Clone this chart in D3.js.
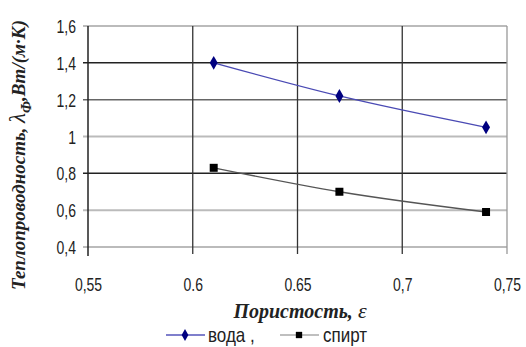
<!DOCTYPE html>
<html>
<head>
<meta charset="utf-8">
<script src="https://cdn.jsdelivr.net/npm/d3@7"></script>
<style>
  body { margin: 0; background: #fff; }
  .tick text { font-family: "Liberation Sans", Arial, sans-serif; font-size: 14px; fill: #222; }
</style>
</head>
<body>
<div id="chart"></div>
<script>
// данные
const poristost = [0.61, 0.67, 0.74];
const voda = [1.40, 1.22, 1.05];
const spirt = [0.83, 0.70, 0.59];
const xTicks = [0.55, 0.6, 0.65, 0.7, 0.75];
const xTickLabels = ['0,55', '0.6', '0.65', '0,7', '0,75'];
const yTicks = [0.4, 0.6, 0.8, 1.0, 1.2, 1.4, 1.6];
const yTickLabels = ['0,4', '0,6', '0,8', '1', '1,2', '1,4', '1,6'];

const width = 526, height = 347;
const margin = { top: 26, right: 19, bottom: 100, left: 88 };
const stretch = 1.3; // текст на картинке вытянут по вертикали

const svg = d3.select('#chart').append('svg')
  .attr('width', width)
  .attr('height', height);

const x = d3.scaleLinear().domain([0.55, 0.75]).range([margin.left, width - margin.right]);
const y = d3.scaleLinear().domain([0.4, 1.6]).range([height - margin.bottom, margin.top]);

// горизонтальная сетка
const hColor = v => (Math.abs(v - 1.4) < 1e-6 || Math.abs(v - 0.8) < 1e-6) ? '#222' : (Math.abs(v - 1.2) < 1e-6 ? '#666' : '#bbb');
svg.append('g')
  .selectAll('line')
  .data(yTicks)
  .join('line')
  .attr('x1', margin.left - 5)
  .attr('x2', width - margin.right)
  .attr('y1', d => y(d))
  .attr('y2', d => y(d))
  .attr('stroke', hColor)
  .attr('stroke-width', d => hColor(d) === '#bbb' ? 2 : 1.5);

// вертикальная сетка
svg.append('g')
  .selectAll('line')
  .data(xTicks.slice(1))
  .join('line')
  .attr('x1', d => x(d))
  .attr('x2', d => x(d))
  .attr('y1', margin.top)
  .attr('y2', height - margin.bottom + 7)
  .attr('stroke', d => d === 0.75 ? '#999' : '#333')
  .attr('stroke-width', 1.3);

// ось Y
svg.append('g')
  .attr('transform', `translate(${margin.left},0)`)
  .call(d3.axisLeft(y).tickValues(yTicks).tickFormat((d, i) => yTickLabels[i]).tickSize(0).tickPadding(12))
  .call(g => g.select('.domain').remove())
  .call(g => g.selectAll('.tick text')
    .attr('transform', `scale(1,${stretch})`)
    .attr('dy', '0.36em'));
svg.append('line')
  .attr('x1', margin.left).attr('x2', margin.left)
  .attr('y1', margin.top).attr('y2', height - margin.bottom + 9)
  .attr('stroke', '#222').attr('stroke-width', 1.5);

// ось X
svg.append('g')
  .attr('transform', `translate(0,${height - margin.bottom})`)
  .call(d3.axisBottom(x).tickValues(xTicks).tickFormat((d, i) => xTickLabels[i]).tickSize(0))
  .call(g => g.select('.domain').remove())
  .call(g => g.selectAll('.tick text')
    .attr('transform', `scale(1,${stretch})`)
    .attr('y', 37 / stretch)
    .attr('dy', '0.36em'));

// линии
const line = d3.line().x(d => x(d[0])).y(d => y(d[1])).curve(d3.curveMonotoneX);
const series = [
  { name: 'вода ,', vals: voda, color: '#4a4ab4', mark: '#000080', sym: d3.symbolDiamond },
  { name: 'спирт', vals: spirt, color: '#555', mark: '#000', sym: d3.symbolSquare }
];
series.forEach(s => {
  const pts = poristost.map((p, i) => [p, s.vals[i]]);
  svg.append('path')
    .datum(pts)
    .attr('d', line)
    .attr('fill', 'none')
    .attr('stroke', s.color)
    .attr('stroke-width', 1.3);
  svg.append('g')
    .selectAll('path')
    .data(pts)
    .join('path')
    .attr('transform', d => `translate(${x(d[0])},${y(d[1])})`)
    .attr('d', d3.symbol().type(s.sym).size(s.sym === d3.symbolDiamond ? 55 : 64))
    .attr('fill', s.mark);
});

// подписи осей
const ylab = svg.append('text')
  .attr('transform', 'translate(25,155) rotate(-90)')
  .attr('text-anchor', 'middle')
  .attr('font-family', '"Liberation Serif", "Times New Roman", serif')
  .attr('font-style', 'italic')
  .attr('font-weight', 'bold')
  .attr('font-size', 19)
  .attr('fill', '#222');
ylab.append('tspan').text('Теплопроводность, ');
ylab.append('tspan').attr('font-weight', 'normal').attr('font-size', 23).text('λ');
ylab.append('tspan').attr('dy', 6).attr('font-size', 14).text('Ф');
ylab.append('tspan').attr('dy', -6).text(',Вт/(м·К)');

const xlab = svg.append('text')
  .attr('x', 300).attr('y', 318)
  .attr('text-anchor', 'middle')
  .attr('font-family', '"Liberation Serif", "Times New Roman", serif')
  .attr('font-style', 'italic')
  .attr('font-weight', 'bold')
  .attr('font-size', 20)
  .attr('fill', '#222');
xlab.append('tspan').text('Пористость, ');
xlab.append('tspan').attr('font-weight', 'normal').attr('font-size', 22).text('ε');

// легенда
const legend = svg.append('g').attr('transform', 'translate(0,335)');
const legX = [166, 280];
series.forEach((s, i) => {
  const g = legend.append('g').attr('transform', `translate(${legX[i]},0)`);
  g.append('line').attr('x1', 0).attr('x2', 39).attr('y1', 0).attr('y2', 0)
    .attr('stroke', i === 0 ? '#5555bb' : '#aaa').attr('stroke-width', 1.5);
  g.append('path')
    .attr('d', d3.symbol().type(s.sym).size(40)).attr('transform', 'translate(19,0)').attr('fill', s.mark);
  g.append('text').attr('x', 42 + i * 1).attr('y', 0)
    .attr('transform', `scale(1,${1.2})`)
    .attr('dy', '0.36em')
    .attr('font-family', '"Liberation Sans", Arial, sans-serif')
    .attr('font-size', 17).attr('fill', '#222')
    .text(s.name);
});
</script>
</body>
</html>
